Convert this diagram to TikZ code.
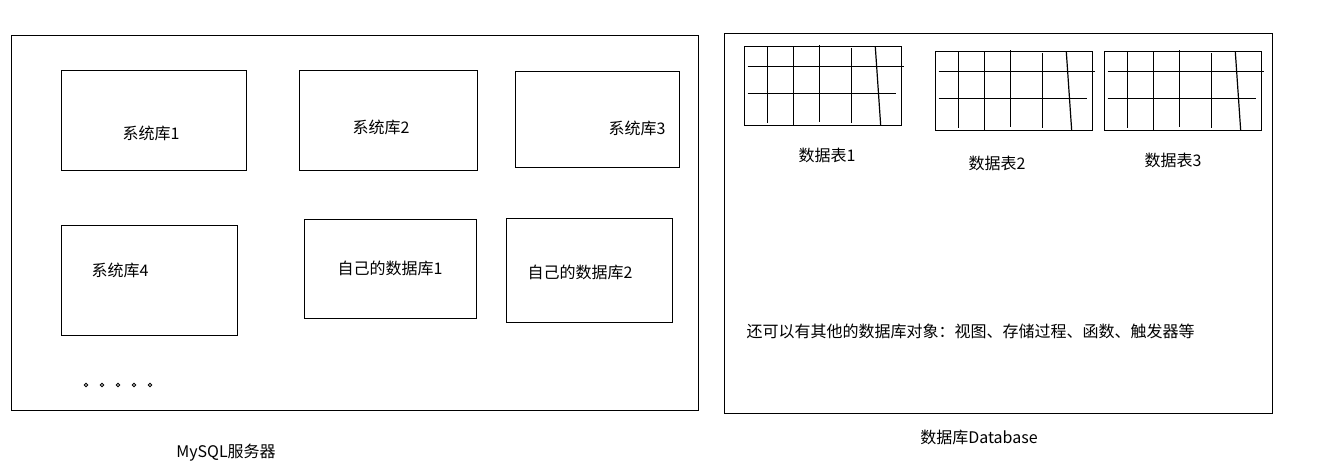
\documentclass[tikz,border=0pt]{standalone}
\usepackage{fontspec}
\setmainfont{Noto Sans CJK SC}
\begin{document}
\begin{tikzpicture}[x=1pt,y=-1pt,line width=1pt,
  box/.style={draw=black,line width=1pt},
  lbl/.style={inner sep=0pt,font=\fontsize{16}{18}\selectfont},
  tline/.style={draw=black,line width=1.2pt},
  dot/.style={draw=black,line width=0.9pt}]
\useasboundingbox (0,0) rectangle (1336,475);
% outer boxes
\draw[box] (11,35) rectangle (698,410);
\draw[box] (724,33) rectangle (1272,413);
% inner boxes
\draw[box] (61,70) rectangle (246,170);
\draw[box] (299,70) rectangle (477,170);
\draw[box] (515,71) rectangle (679,167);
\draw[box] (61,225) rectangle (237,335);
\draw[box] (304,219) rectangle (476,318);
\draw[box] (506,218) rectangle (672,322);
\node[lbl] (s1) at (151,133) {系统库1};
\node[lbl] (s2) at (381,127) {系统库2};
\node[lbl] (s3) at (637,128) {系统库3};
\node[lbl] (s4) at (120,270) {系统库4};
\node[lbl] (u1) at (390,268) {自己的数据库1};
\node[lbl] (u2) at (580,272) {自己的数据库2};
\foreach \i in {0,...,4} \draw[dot] (86+16*\i,385) circle (1.8);
\node[lbl] (mysql) at (226,453) {MySQL服务器};
\node[lbl] (db) at (979,437) {数据库Database};
% tables
\foreach \dx/\dy in {0/0,191/5,360/5}{
\begin{scope}[shift={(\dx,\dy)}]
\draw[tline] (744.3,46.3) rectangle (901.7,125.7);
\draw[tline] (747.7,66.7) -- (904,66.7);
\draw[tline] (747.7,93.3) -- (896,93.3);
\draw[tline] (767.3,46.3) -- (767.3,123.3);
\draw[tline] (793.3,46.3) -- (793.3,125.7);
\draw[tline] (819.3,45) -- (819.3,122.3);
\draw[tline] (851.3,48.3) -- (851.3,123.3);
\draw[tline] (875.3,46.7) -- (880.7,125.7);
\end{scope}}
\node[lbl] (t1) at (827,155) {数据表1};
\node[lbl] (t2) at (997,163) {数据表2};
\node[lbl] (t3) at (1173,160) {数据表3};
\node[lbl,anchor=west] (other) at (746,331) {还可以有其他的数据库对象：视图、存储过程、函数、触发器等};
\end{tikzpicture}
\end{document}
